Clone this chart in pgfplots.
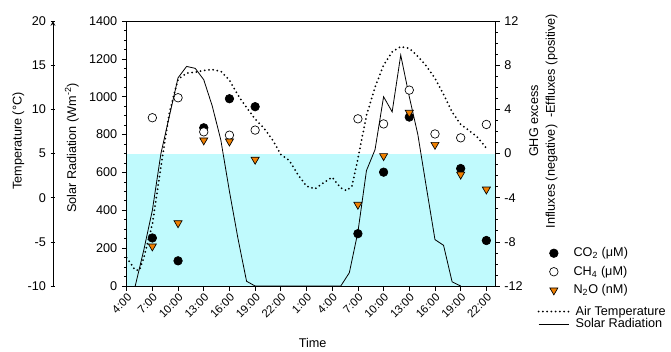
\documentclass[border=0pt]{standalone}
\usepackage{pgfplots}
\pgfplotsset{compat=1.18}
\usepackage{fontspec}
\setmainfont{Liberation Sans}
\definecolor{cyanbg}{RGB}{192,250,253}
\definecolor{n2o}{RGB}{240,128,0}
\newcommand{\fs}{\fontsize{9.5}{11}\selectfont}
\pgfplotsset{
  base/.style={
    at={(0pt,0pt)}, anchor=south west, scale only axis,
    width=276.2pt, height=198.75pt,
    xmin=4, xmax=47,
    tick align=outside,
    major tick length=3.5pt, minor tick length=2pt,
    tick label style={font=\fs},
    label style={font=\fs},
    /pgf/number format/assume math mode=true,
    /pgf/number format/1000 sep={},
    every tick/.style={black, line width=0.5pt},
    axis line style={line width=0.6pt, -},
  }
}
\pgfplotstableread{
h val
5 0
6 190
7 400
8 700
9 900
10 1100
11 1160
12 1150
13 1090
14 950
15 770
16 500
17 250
18 25
19 0
29 0
30 70
31 285
32 610
33 720
34 1000
35 920
36 1220
37 1000
38 800
39 520
40 245
41 215
42 22
43 0
}\solar
\pgfplotstableread{
h t
4 -6.8
5 -8.2
5.5 -8.2
6 -6.8
7 -3.0
8 3.5
9 9.7
10 13.4
11 14.1
12 14.2
13 14.4
14 14.5
15 14.3
16 13.3
17 11.6
18 10.2
19 8.9
20 7.9
21 6.6
22 4.9
23 4.2
24 2.6
25 1.3
26 1.0
27 1.7
28 2.3
28.5 1.7
29 1.1
29.7 0.8
30.3 1.3
31 4.4
32 9.3
33 12.5
34 15.0
35 16.5
36 17.1
37 16.9
38 16.0
39 14.9
40 13.5
41 11.7
42 9.7
43 8.3
44 7.6
45 6.8
46 5.6
}\airtemp
\pgfplotstableread{
h v
7 -7.65
10 -9.72
13 2.33
16 4.96
19 4.24
31 -7.26
34 -1.69
37 3.30
43 -1.36
46 -7.88
}\cotwo
\pgfplotstableread{
h v
7 3.24
10 5.05
13 1.96
16 1.66
19 2.12
31 3.14
34 2.68
37 5.74
40 1.77
43 1.42
46 2.63
}\chfour
\pgfplotstableread{
h v
7 -8.4
10 -6.3
13 1.2
16 1.1
19 -0.55
31 -4.63
34 -0.22
37 3.7
40 0.8
43 -1.9
46 -3.25
}\ntwoo
\begin{document}
\begin{tikzpicture}
% temperature scale axis
\begin{axis}[base, at={(-55.3pt,0pt)}, width=1pt, xmin=0, xmax=1, ymin=-10, ymax=20,
  axis x line=none, axis y line=left, ytick={-10,-5,...,20},
  ylabel={Temperature (°C)},
  ylabel style={at={(axis description cs:-26,0.547)}, anchor=center}]
\addplot[draw=none] coordinates {(0.5,0)};
\end{axis}
% solar radiation axis
\begin{axis}[base, ymin=0, ymax=1400, ytick={0,200,...,1400}, minor y tick num=3,
  xtick={4,7,...,46},
  xticklabels={4:00,7:00,10:00,13:00,16:00,19:00,22:00,1:00,4:00,7:00,10:00,13:00,16:00,19:00,22:00},
  xticklabel style={rotate=45, anchor=north east, inner sep=1pt, font=\fontsize{8.5}{10}\selectfont},
  xtick pos=bottom, ytick pos=left, axis on top,
  xlabel={Time}, xlabel style={at={(axis description cs:0.505,-0.215)}, anchor=center},
  ylabel={Solar Radiation (Wm\textsuperscript{-2})},
  ylabel style={at={(axis description cs:-0.149,0.521)}, anchor=center}]
\addplot[draw=none, fill=cyanbg] coordinates {(4,0) (4,700) (47,700) (47,0)} -- cycle;
\addplot[black, line width=0.6pt] table[x=h, y=val] {\solar};
\end{axis}
% air temperature line
\begin{axis}[base, ymin=-10, ymax=20, hide axis,
  legend cell align=left,
  legend style={draw=none, fill=none, inner sep=0pt, nodes={inner sep=1pt, text depth=0.15em},
    font=\fs, row sep=-1pt, at={(1.1151,-0.120)}, anchor=west,
    /tikz/every odd column/.append style={column sep=3.5pt}},
  legend image code/.code={\draw[#1] (0pt,0pt) -- (22.5pt,0pt);}]
\addplot[black, line width=1.5pt, line cap=round, dash pattern=on 0pt off 3.2pt] table[x=h, y=t] {\airtemp};
\addlegendentry{Air Temperature}
\addlegendimage{black, line width=0.6pt}
\addlegendentry{Solar Radiation}
\end{axis}
% GHG axis
\begin{axis}[base, ymin=-12, ymax=12, axis x line=none, axis y line*=right,
  ytick={-12,-8,...,12}, minor y tick num=3,
  legend cell align=left,
  legend style={draw=none, fill=none, inner sep=0pt, nodes={inner sep=1pt, text depth=0.15em},
    font=\fs, row sep=3.5pt, at={(1.1477,0.0538)}, anchor=west,
    /tikz/every odd column/.append style={column sep=10.6pt}},
  legend image code/.code={\draw[#1] plot coordinates {(0pt,0pt)};}]
\addplot[only marks, mark=*, mark size=3.2pt, mark options={draw=black, fill=black, line width=0.5pt}] table[x=h, y=v] {\cotwo};
\addlegendentry{CO\textsubscript{2} (μM)}
\addplot[only marks, mark=*, mark size=3.2pt, mark options={draw=black, fill=white, line width=0.5pt}] table[x=h, y=v] {\chfour};
\addlegendentry{CH\textsubscript{4} (μM)}
\addplot[only marks, mark=triangle*, mark size=3.5pt, mark options={rotate=180, draw=black, fill=n2o, line width=0.5pt}] table[x=h, y=v] {\ntwoo};
\addlegendentry{N\textsubscript{2}O (nM)}
\end{axis}
\node[rotate=90, align=center, font=\fontsize{9.5}{12.5}\selectfont] at (312.5pt,123.75pt)
  {GHG excess\\Influxes (negative)\ \ -Effluxes (positive)};
\pgfresetboundingbox
\path (-95pt,-48.75pt) rectangle (408.25pt,214.5pt);
\end{tikzpicture}
\end{document}
